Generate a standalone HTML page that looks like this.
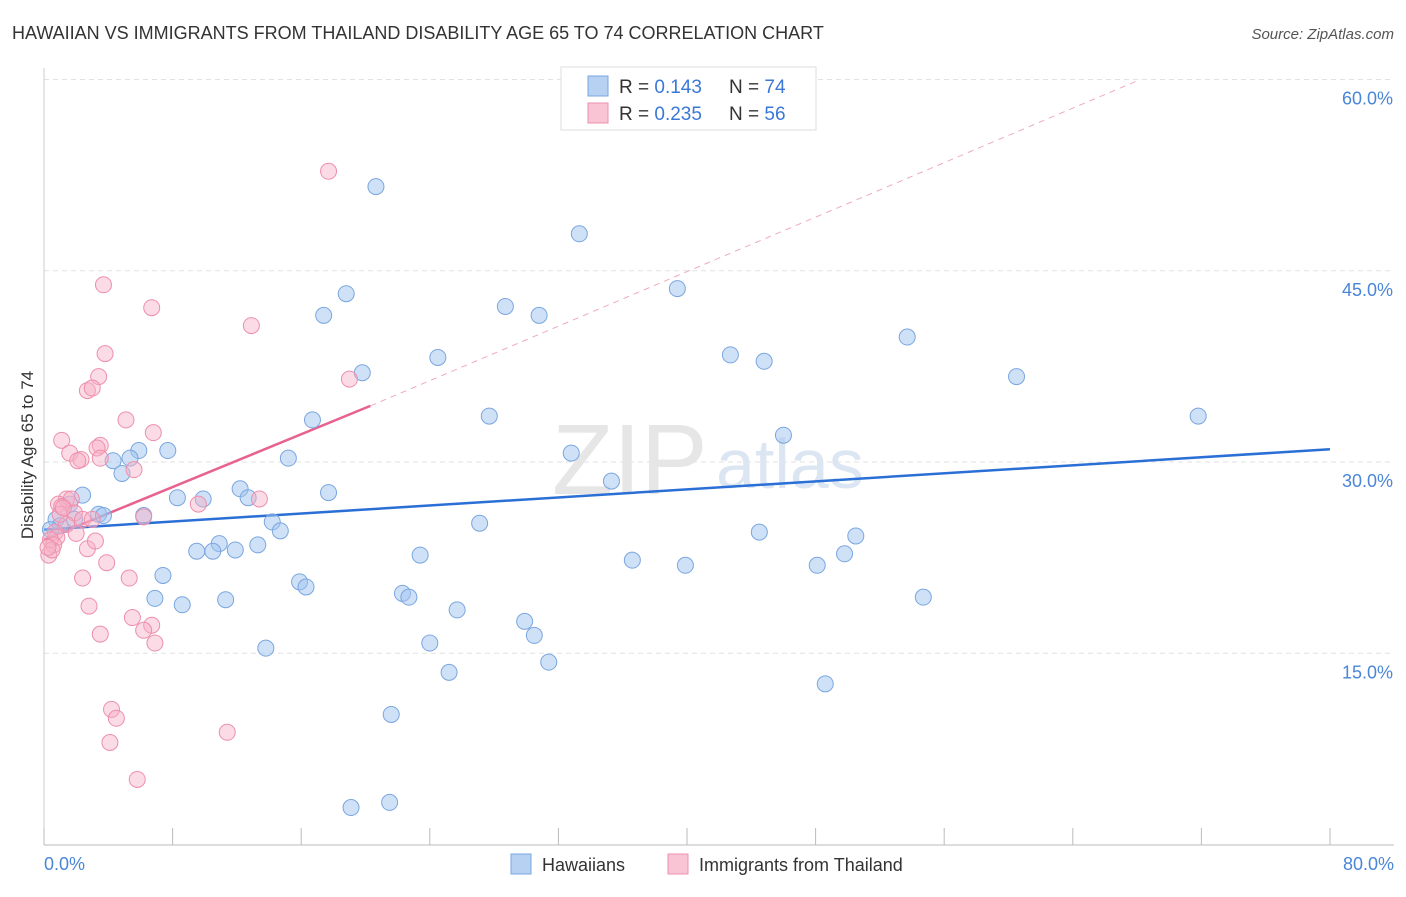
<!DOCTYPE html>
<html><head><meta charset="utf-8"><style>
html,body{margin:0;padding:0;background:#fff;}
svg text{font-family:"Liberation Sans",sans-serif;}
</style></head><body>
<svg id="chart" width="1406" height="892" viewBox="0 0 1406 892" xmlns="http://www.w3.org/2000/svg">
<text x="12" y="39" font-size="18" fill="#333">HAWAIIAN VS IMMIGRANTS FROM THAILAND DISABILITY AGE 65 TO 74 CORRELATION CHART</text>
<text x="1394" y="39" font-size="15" fill="#555" text-anchor="end" font-style="italic">Source: ZipAtlas.com</text>
<g id="grid"></g>
<g>
<text x="552" y="494" font-size="100" fill="#e6e6e6" font-family="Liberation Serif,serif">ZIP</text>
<text x="716" y="488" font-size="70" fill="#dce6f3">atlas</text>
</g>
<g id="axes"></g>
<g id="lines"></g>
<g id="pts"></g>
<text transform="translate(33,455) rotate(-90)" font-size="17" fill="#333" text-anchor="middle">Disability Age 65 to 74</text>
<g>
<rect x="561" y="67" width="255" height="63" fill="#fff" stroke="#ddd"/>
<rect x="588" y="76" width="20" height="20" fill="#b7d1f2" stroke="#7aa6e0"/>
<rect x="588" y="103" width="20" height="20" fill="#f9c4d3" stroke="#ee8fac"/>
<text x="619" y="93" font-size="19" fill="#333">R = <tspan fill="#3a78d6">0.143</tspan></text>
<text x="729" y="93" font-size="19" fill="#333">N = <tspan fill="#3a78d6">74</tspan></text>
<text x="619" y="120" font-size="19" fill="#333">R = <tspan fill="#3a78d6">0.235</tspan></text>
<text x="729" y="120" font-size="19" fill="#333">N = <tspan fill="#3a78d6">56</tspan></text>
</g>
<g>
<rect x="511" y="854" width="20" height="20" fill="#b7d1f2" stroke="#7aa6e0"/>
<text x="542" y="871" font-size="18" fill="#333">Hawaiians</text>
<rect x="668" y="854" width="20" height="20" fill="#f9c4d3" stroke="#ee8fac"/>
<text x="699" y="871" font-size="18" fill="#333">Immigrants from Thailand</text>
</g>
</svg>
<script>
const blueX=[20.65,33.3,18.8,39.4,17.4,28.7,30.8,53.7,24.5,42.7,44.8,19.8,60.5,71.8,27.7,16.7,46.0,7.7,5.9,5.35,4.3,15.2,32.8,4.85,35.3,17.7,8.3,9.9,12.2,12.7,2.4,0.75,1.6,3.4,3.7,6.2,14.2,14.7,27.1,44.5,50.5,10.9,13.3,9.5,10.5,11.9,23.4,49.8,36.6,39.9,48.1,7.4,15.9,16.3,22.3,22.7,6.9,8.6,11.3,25.7,54.7,29.9,30.5,24.0,13.8,31.4,25.2,48.6,21.6,19.1,21.5,1.0,0.4,1.9];
const blueY=[51.6,47.9,43.2,43.6,41.5,42.2,41.5,39.8,38.2,38.4,37.9,37.0,36.7,33.6,33.6,33.3,32.1,30.9,30.9,30.3,30.1,30.3,30.7,29.1,28.5,27.6,27.2,27.1,27.9,27.2,27.4,25.5,26.7,25.9,25.8,25.8,25.3,24.6,25.2,24.5,24.2,23.6,23.5,23.0,23.0,23.1,22.7,22.8,22.3,21.9,21.9,21.1,20.6,20.2,19.7,19.4,19.3,18.8,19.2,18.4,19.4,17.5,16.4,15.8,15.4,14.3,13.5,12.6,10.2,2.9,3.3,25.0,24.7,25.5];
const pinkX=[17.7,3.7,6.7,12.9,3.8,3.4,19.0,2.7,3.0,5.1,1.1,6.8,3.5,3.3,1.6,2.3,2.1,5.6,1.4,1.7,0.9,1.1,6.2,9.6,13.4,1.9,2.4,1.4,0.7,0.8,3.0,2.0,0.4,0.6,2.7,3.2,0.3,0.5,3.9,2.4,5.3,2.8,5.5,6.7,6.2,3.5,6.9,4.2,4.5,11.4,4.1,5.8,1.0,0.25,1.2,3.5];
const pinkY=[52.8,43.9,42.1,40.7,38.5,36.7,36.5,35.6,35.8,33.3,31.7,32.3,31.3,31.1,30.7,30.2,30.1,29.4,27.1,27.1,26.7,26.5,25.7,26.7,27.1,26.0,25.5,25.1,24.5,24.1,25.5,24.4,23.9,23.5,23.2,23.8,22.7,23.1,22.1,20.9,20.9,18.7,17.8,17.2,16.8,16.5,15.8,10.6,9.9,8.8,8.0,5.1,25.9,23.3,26.4,30.3];
const yTicks=[15,30,45,60];
const xTickVals=[0,8,16,24,32,40,48,56,64,72,80];
const blueTrend=[24.7,31.0];   // y at x=0 and x=80
const pinkTrend=[23.9,34.4];   // y at x=0 and x=20.3
const pinkSolidEnd=20.3, pinkDashEnd=68.2, pinkDashEndY=60.0;

const NS="http://www.w3.org/2000/svg";
const X=v=>44+v*16.075, Y=v=>844.5-v*12.75;
function mk(tag,attrs,parent){const e=document.createElementNS(NS,tag);for(const k in attrs)e.setAttribute(k,attrs[k]);parent.appendChild(e);return e;}
const grid=document.getElementById('grid'),axes=document.getElementById('axes');
yTicks.forEach(t=>{
  const l=mk('line',{x1:44,x2:1394,y1:Y(t),y2:Y(t),stroke:'#e2e2e2','stroke-dasharray':'5,4'},grid);
  
  
  const tx=mk('text',{x:1393,y:Y(t)+25,'font-size':18,fill:'#4a86d8','text-anchor':'end'},axes);
  tx.textContent=t.toFixed(1)+'%';
  
  
});
const ax=mk('line',{x1:44,x2:1394,y1:845,y2:845,stroke:'#bbb'},axes);


const ay=mk('line',{x1:44,x2:44,y1:68,y2:845,stroke:'#ccc'},axes);


xTickVals.forEach(t=>{
  const l=mk('line',{x1:X(t),x2:X(t),y1:828,y2:845,stroke:'#bbb'},axes);
  
  
});
[[0,44,'start'],[80,1394,'end']].forEach(([v,x,a])=>{
  const tx=mk('text',{x:x,y:870,'font-size':18,fill:'#4a86d8','text-anchor':a},axes);
  tx.textContent=v.toFixed(1)+'%';
  
  
});
const pts=document.getElementById('pts');
blueX.forEach((x,i)=>{
  const c=mk('circle',{cx:X(x),cy:Y(blueY[i]),r:8,fill:'rgba(160,195,238,0.5)',stroke:'#7aa6e0','stroke-width':1},pts);
  
  
});
pinkX.forEach((x,i)=>{
  const c=mk('circle',{cx:X(x),cy:Y(pinkY[i]),r:8,fill:'rgba(246,175,198,0.45)',stroke:'#ee8fac','stroke-width':1},pts);
  
  
});
const lines=document.getElementById('lines');
const pd=mk('line',{x1:X(pinkSolidEnd),y1:Y(pinkTrend[1]),x2:X(pinkDashEnd),y2:Y(pinkDashEndY),stroke:'#eeaabf','stroke-width':1,'stroke-dasharray':'6,5'},lines);


const ps=mk('line',{x1:X(0),y1:Y(pinkTrend[0]),x2:X(pinkSolidEnd),y2:Y(pinkTrend[1]),stroke:'#e8628f','stroke-width':2.5},lines);


const bl=mk('line',{x1:X(0),y1:Y(blueTrend[0]),x2:X(80),y2:Y(blueTrend[1]),stroke:'#2a6fd6','stroke-width':2.5},lines);


</script>
</body></html>
